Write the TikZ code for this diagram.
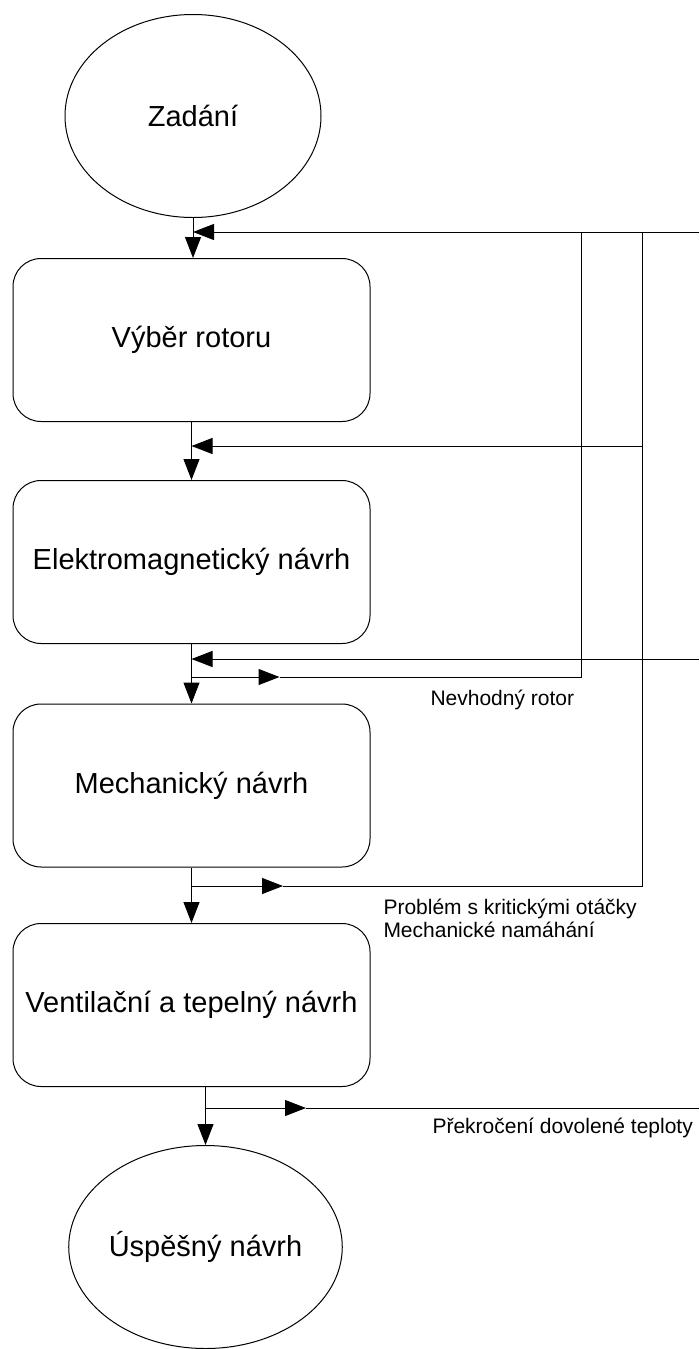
\documentclass[tikz,border=0pt]{standalone}
\usepackage{fontspec}
\setmainfont{Liberation Sans}
\usetikzlibrary{shapes.geometric,arrows.meta}
\tikzset{
  blok/.style={draw, rounded corners=28pt, minimum width=357pt, minimum height=163pt, inner sep=0pt, font=\fontsize{29}{34}\selectfont},
  kruh/.style={draw, ellipse, minimum width=256pt, minimum height=203pt, inner sep=0pt, font=\fontsize{29}{34}\selectfont},
  sipka/.style={-{Triangle[length=21pt,width=16pt]}},
  popis/.style={anchor=west, align=left, inner sep=0pt, font=\fontsize{21}{23}\selectfont},
}
\begin{document}
\begin{tikzpicture}[line width=1pt]
\useasboundingbox (0pt,0pt) rectangle (699pt,-1349pt);
% bloky
    \node[kruh] (zad) at (193pt,-116pt) {Zadání};
    \node[blok] (rot) at (191.5pt,-340pt) {Výběr rotoru};
    \node[blok] (em) at (191.5pt,-562pt) {Elektromagnetický návrh};
    \node[blok] (mech) at (191.5pt,-785.5pt) {Mechanický návrh};
    \node[blok] (vent) at (191.5pt,-1005pt) {Ventilační a tepelný návrh};
    \node[kruh] (usp) at (205.5pt,-1247pt) {Úspěšný návrh};

% hlavni tok
    \draw[sipka] (zad.south) -- (zad.south |- rot.north);
    \draw[sipka] (rot.south) -- (em.north);
    \draw[sipka] (em.south) -- (mech.north);
    \draw[sipka] (mech.south) -- (vent.north);
    \draw[sipka] (vent.south -| usp.north) -- (usp.north);

% zpetne vazby
    \coordinate (r1) at (699pt,-232pt);
    \coordinate (r2) at (699pt,-659pt);
    \coordinate (r3) at (699pt,-1108pt);
    \coordinate (a1) at (581pt,-232pt);
    \coordinate (b1) at (642pt,-232pt);
    \coordinate (b2) at (642pt,-446pt);

    \draw[sipka] (r1) -- (r1 -| zad.south);
    \draw[sipka] (b2) -- (b2 -| rot.south);
    \draw[sipka] (r2) -- (r2 -| em.south);

    \coordinate (a0) at (191.5pt,-677pt);
    \coordinate (am) at (279.5pt,-677pt);
    \coordinate (a2) at (581pt,-677pt);
    \draw[sipka] (a0) -- (am);
    \draw (am) -- (a2) -- (a1);

    \coordinate (c0) at (191.5pt,-886pt);
    \coordinate (cm) at (283pt,-886pt);
    \coordinate (c2) at (642pt,-886pt);
    \draw[sipka] (c0) -- (cm);
    \draw (cm) -- (c2) -- (b1);

    \coordinate (d0) at (205.5pt,-1108pt);
    \coordinate (dm) at (306pt,-1108pt);
    \draw[sipka] (d0) -- (dm);
    \draw (dm) -- (r3);

% popisky
    \node[popis] (lrot) at (430pt,-700pt) {Nevhodný rotor};
    \node[popis] (lmech) at (383pt,-918pt) {Problém s kritickými otáčky\\Mechanické namáhání};
    \node[popis] (lvent) at (432pt,-1128pt) {Překročení dovolené teploty};
\end{tikzpicture}
\end{document}
